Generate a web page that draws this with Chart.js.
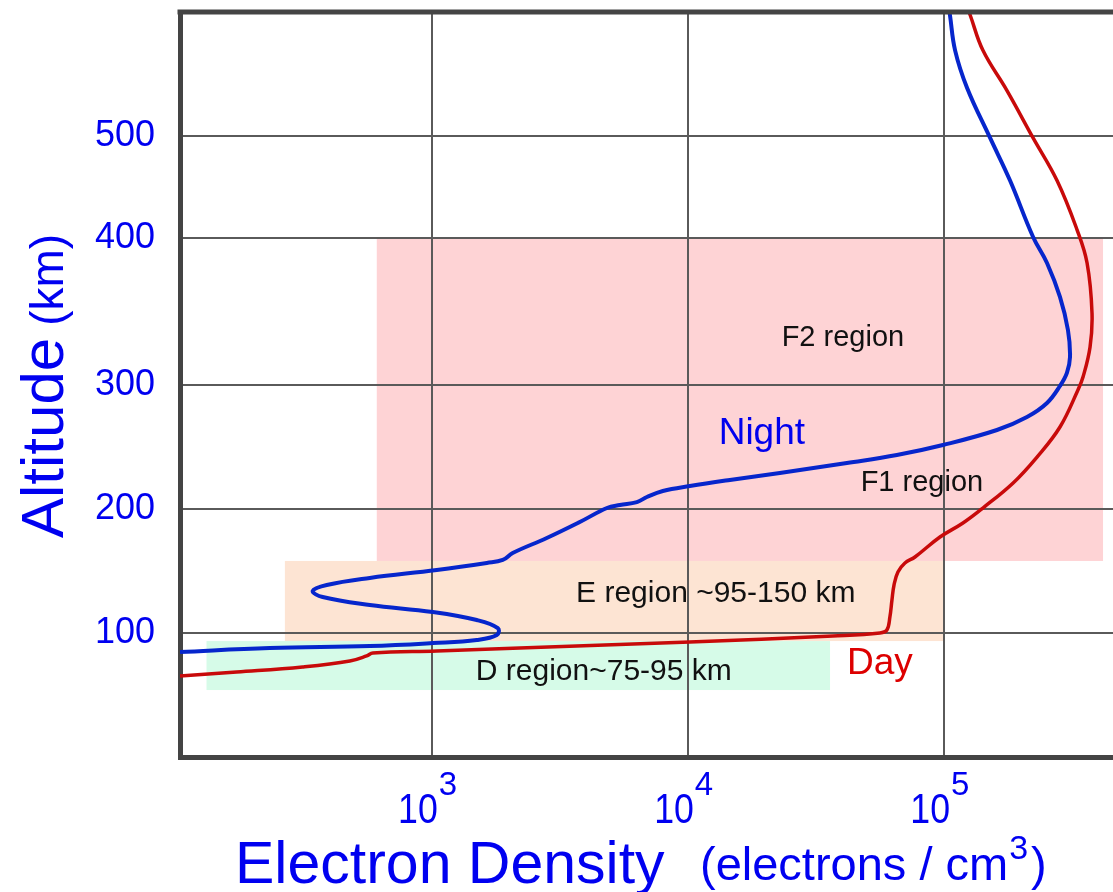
<!DOCTYPE html>
<html>
<head>
<meta charset="utf-8">
<title>Ionosphere electron density profile</title>
<script src="https://cdn.jsdelivr.net/npm/chart.js@4/dist/chart.umd.min.js"></script>
<style>
  html, body { margin: 0; padding: 0; background: #ffffff; }
  canvas { display: block; }
</style>
</head>
<body>
<canvas id="profile" width="1113" height="892"></canvas>
<script>
// ---- Data: electron density (electrons / cm^3) versus altitude (km) ----
const nightDensity = [104, 233, 573, 1009, 1499, 1795, 1811, 1499, 1009, 573, 375, 343, 389, 573, 1046, 1640, 1893, 2070, 2812, 3784, 4831, 5425, 6322, 6918, 7985, 10180, 14590, 22860, 41770, 65460, 99080, 161000, 210900, 252500, 283700, 302000, 310500, 304800, 283700, 252500, 222800, 181100, 151400, 123000, 110500, 105500, 105000];
const nightAltitude = [84.7, 87.9, 89.5, 91.9, 94.4, 98.4, 104.0, 110.5, 116.9, 122.6, 129.0, 133.9, 138.7, 144.4, 150.8, 156.5, 158.9, 164.5, 176.6, 189.5, 200.8, 203.2, 205.6, 209.7, 214.5, 218.5, 223.4, 229.0, 237.1, 243.5, 251.6, 263.7, 274.2, 285.5, 299.2, 308.2, 319.0, 337.4, 359.9, 383.0, 401, 456.3, 498.1, 546.8, 582.9, 617.1, 620];

const dayDensity = [104, 173, 313, 479, 557, 589, 1046, 2208, 10180, 36810, 56230, 59840, 61490, 62640, 63800, 66100, 70400, 77050, 96460, 118600, 141900, 186200, 230800, 283700, 333500, 349000, 371800, 378400, 362000, 331100, 276300, 222800, 176200, 141900, 126500, 125000];
const dayAltitude = [65.3, 68.5, 72.6, 77.4, 81.5, 83.9, 85.5, 87.9, 92.7, 97.6, 100, 102.4, 112.9, 126.6, 138.7, 149.2, 156.5, 161.3, 177.4, 188.7, 200.8, 221.0, 241.9, 266.1, 296.0, 305.4, 325.9, 349, 383, 407.8, 456.3, 498.1, 543.9, 582.9, 617.1, 620];

// Ionospheric layers: F (pink), E (peach), D (green)
const regionDensityFrom = [610, 267, 132];
const regionDensityTo = [417800, 100000, 35900];
const regionAltitudeFrom = [158.1, 93.5, 54.0];
const regionAltitudeTo = [400, 158.1, 93.5];

// Text labels placed in data coordinates
const noteText = ['F2 region', 'F1 region', 'E region ~95-150 km', 'D region~75-95 km', 'Night', 'Day'];
const noteDensity = [40300, 82000, 12850, 4695, 19450, 56230];
const noteAltitude = [332, 221, 131.5, 68.5, 260.5, 75];

// Axis ticks
const densityTicks = [1e3, 1e4, 1e5];
const altitudeTicks = [100, 200, 300, 400, 500];
const densityRange = [104, 457000];
const altitudeRange = [0, 620];

// ---- Styling ----
const FONT = "'Liberation Sans', Arial, sans-serif";
const BLUE_TEXT = '#0000f0';
const FRAME = '#444444';
const GRID = '#5a5a5a';
const regionColors = ['#fed3d5', '#fde4d3', '#d6fbe8'];
const noteColors = ['#111111', '#111111', '#111111', '#111111', '#0000ee', '#dd0000'];
const noteFonts = ['29px', '29px', '30px', '30px', '37px', '37px'];

// The altitude axis of this diagram is not uniform: the km spacing
// changes between grid lines. Breakpoints give the fraction of the axis height.
const warpAlt = [0, 100, 200, 300, 400, 500, 620];
const warpFrac = [0, 124, 248, 372, 519, 621, 745].map(v => v / 745);

function interp(v, xs, ys) {
  if (v <= xs[0]) return ys[0] + (v - xs[0]) * (ys[1] - ys[0]) / (xs[1] - xs[0]);
  for (let i = 1; i < xs.length; i++) {
    if (v <= xs[i]) return ys[i - 1] + (v - xs[i - 1]) * (ys[i] - ys[i - 1]) / (xs[i] - xs[i - 1]);
  }
  const n = xs.length - 1;
  return ys[n] + (v - xs[n]) * (ys[n] - ys[n - 1]) / (xs[n] - xs[n - 1]);
}

class AltitudeWarpScale extends Chart.LinearScale {
  getPixelForValue(value) {
    if (value === null || value === undefined || isNaN(value)) return NaN;
    return this.getPixelForDecimal(interp(value, warpAlt, warpFrac));
  }
  getValueForPixel(pixel) {
    return interp(this.getDecimalForPixel(pixel), warpFrac, warpAlt);
  }
}
AltitudeWarpScale.id = 'altitudeWarp';
AltitudeWarpScale.defaults = Chart.LinearScale.defaults;
Chart.register(AltitudeWarpScale);

function toPoints(xs, ys) { return xs.map((x, i) => ({ x: x, y: ys[i] })); }

function noScalePadding(s) {
  s.paddingTop = 0;
  s.paddingBottom = 0;
  s.paddingLeft = 0;
  s.paddingRight = 0;
}

const backdropPlugin = {
  id: 'backdrop',
  beforeDraw(chart) {
    const ctx = chart.ctx;
    const xs = chart.scales.x, ys = chart.scales.y;
    ctx.save();
    ctx.fillStyle = '#ffffff';
    ctx.fillRect(0, 0, chart.width, chart.height);
    for (let i = 0; i < regionColors.length; i++) {
      const x0 = xs.getPixelForValue(regionDensityFrom[i]);
      const x1 = xs.getPixelForValue(regionDensityTo[i]);
      const y0 = ys.getPixelForValue(regionAltitudeTo[i]);
      const y1 = ys.getPixelForValue(regionAltitudeFrom[i]);
      ctx.fillStyle = regionColors[i];
      ctx.fillRect(x0, y0, x1 - x0, y1 - y0);
    }
    ctx.restore();
  }
};

const annotationPlugin = {
  id: 'annotations',
  afterDatasetsDraw(chart) {
    const ctx = chart.ctx;
    const xs = chart.scales.x, ys = chart.scales.y;
    ctx.save();
    ctx.textAlign = 'center';
    ctx.textBaseline = 'middle';
    for (let i = 0; i < noteText.length; i++) {
      ctx.font = noteFonts[i] + ' ' + FONT;
      ctx.fillStyle = noteColors[i];
      ctx.fillText(noteText[i], xs.getPixelForValue(noteDensity[i]), ys.getPixelForValue(noteAltitude[i]));
    }
    ctx.restore();
  },
  afterDraw(chart) {
    const ctx = chart.ctx;
    const area = chart.chartArea;
    const xs = chart.scales.x;
    ctx.save();

    // top frame line
    ctx.strokeStyle = FRAME;
    ctx.lineWidth = 5;
    ctx.beginPath();
    ctx.moveTo(area.left - 2.5, area.top);
    ctx.lineTo(chart.width, area.top);
    ctx.stroke();

    // power-of-ten labels under the density axis
    ctx.fillStyle = BLUE_TEXT;
    ctx.textBaseline = 'alphabetic';
    xs.ticks.forEach(t => {
      const px = xs.getPixelForValue(t.value);
      const exp = Math.round(Math.log10(t.value));
      ctx.save();
      ctx.translate(px + 6, 823);
      ctx.scale(0.85, 1);
      ctx.font = '42px ' + FONT;
      ctx.textAlign = 'right';
      ctx.fillText('10', 0, 0);
      ctx.restore();
      ctx.font = '33px ' + FONT;
      ctx.textAlign = 'left';
      ctx.fillText(String(exp), px + 7, 795);
    });

    // density axis title
    ctx.textAlign = 'left';
    ctx.font = '59px ' + FONT;
    ctx.fillText('Electron Density', 235, 883);
    ctx.font = '47px ' + FONT;
    const part = '(electrons / cm';
    ctx.fillText(part, 700, 880);
    let cx = 700 + ctx.measureText(part).width + 1;
    ctx.font = '34px ' + FONT;
    ctx.fillText('3', cx, 859);
    cx += ctx.measureText('3').width + 3;
    ctx.font = '47px ' + FONT;
    ctx.fillText(')', cx, 880);

    // altitude axis title, rotated
    ctx.save();
    ctx.translate(63, 538);
    ctx.rotate(-Math.PI / 2);
    ctx.font = '60px ' + FONT;
    ctx.fillText('Altitude', 0, 0);
    const w = ctx.measureText('Altitude').width;
    ctx.font = '46px ' + FONT;
    ctx.fillText('(km)', w + 12, 0);
    ctx.restore();

    ctx.restore();
  }
};

new Chart(document.getElementById('profile'), {
  type: 'scatter',
  data: {
    datasets: [
      {
        label: 'Night',
        data: toPoints(nightDensity, nightAltitude),
        showLine: true,
        borderColor: '#0626cc',
        borderWidth: 4,
        pointRadius: 0,
        tension: 0.4
      },
      {
        label: 'Day',
        data: toPoints(dayDensity, dayAltitude),
        showLine: true,
        borderColor: '#c80a0a',
        borderWidth: 3.5,
        pointRadius: 0,
        tension: 0.4
      }
    ]
  },
  options: {
    responsive: false,
    animation: false,
    devicePixelRatio: 1,
    layout: { padding: { top: 12, right: 0, left: 0, bottom: 0 } },
    plugins: {
      legend: { display: false },
      tooltip: { enabled: false }
    },
    scales: {
      x: {
        type: 'logarithmic',
        min: densityRange[0],
        max: densityRange[1],
        afterBuildTicks: s => { s.ticks = densityTicks.map(v => ({ value: v })); },
        afterFit: s => { s.height = 135; noScalePadding(s); },
        ticks: { display: false },
        grid: { color: GRID, lineWidth: 2, drawTicks: false },
        border: { display: true, color: FRAME, width: 5 }
      },
      y: {
        type: 'altitudeWarp',
        min: altitudeRange[0],
        max: altitudeRange[1],
        afterBuildTicks: s => { s.ticks = altitudeTicks.map(v => ({ value: v })); },
        afterFit: s => { s.width = 180; noScalePadding(s); },
        ticks: {
          display: true,
          color: BLUE_TEXT,
          padding: 25,
          font: { family: FONT, size: 36 }
        },
        grid: { color: GRID, lineWidth: 2, drawTicks: false },
        border: { display: true, color: FRAME, width: 5 }
      }
    }
  },
  plugins: [backdropPlugin, annotationPlugin]
});
</script>
</body>
</html>
